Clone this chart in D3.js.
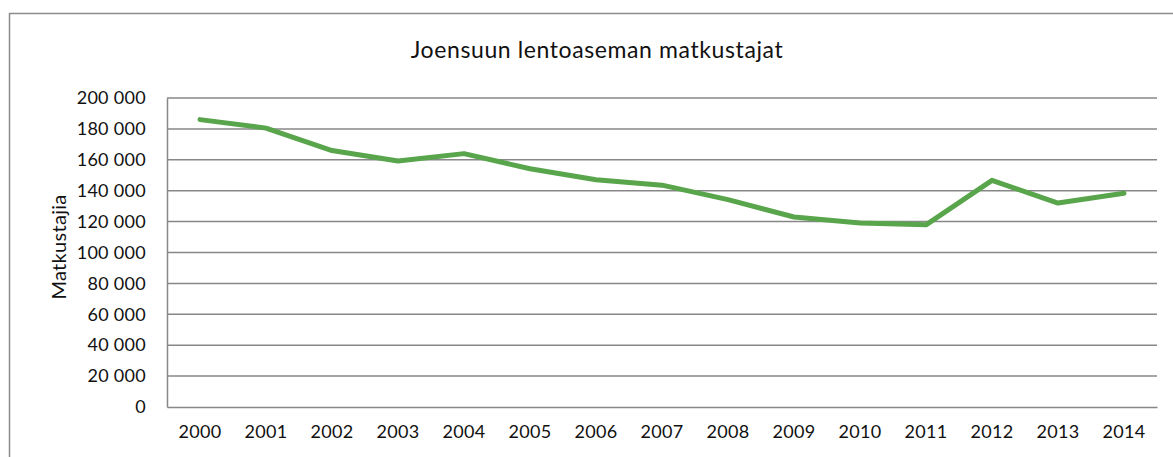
<!DOCTYPE html>
<html>
<head>
<meta charset="utf-8">
<script src="https://cdn.jsdelivr.net/npm/d3@7"></script>
<style>
  body { margin: 0; background: #fff; }
  svg { display: block; font-family: Lato, "Open Sans", sans-serif; }
</style>
</head>
<body>
<svg id="view" width="1173" height="457"></svg>
<script>
// data
const years = ['2000','2001','2002','2003','2004','2005','2006','2007','2008','2009','2010','2011','2012','2013','2014'];
const passengers = [186000, 180500, 166000, 159200, 164000, 154200, 147100, 143600, 134200, 123000, 119100, 117900, 146700, 132000, 138300];
const yTicks = [0, 20000, 40000, 60000, 80000, 100000, 120000, 140000, 160000, 180000, 200000];

const title = 'Joensuun lentoaseman matkustajat';
const yTitle = 'Matkustajia';

const GRID = '#878787', LINE = '#58a54c';
const plot = {left: 167, right: 1157, top: 98, bottom: 407};

var svg = d3.select('#view');

// outer chart frame (only top and left are visible in the crop)
svg.append('path')
    .attr('d', 'M9.5,458 L9.5,13.5 L1173,13.5')
    .attr('fill', 'none')
    .attr('stroke', '#8c8c8c')
    .attr('stroke-width', 1.5);

var x = d3.scaleBand().domain(years).range([plot.left, plot.right]);
var y = d3.scaleLinear().domain([0, 200000]).range([plot.bottom, plot.top]);

const fmt = v => d3.format(',')(v).replace(/,/g, ' ');

// gridlines
svg.append('g').selectAll('line').data(yTicks.filter(d => d > 0)).enter().append('line')
    .attr('x1', plot.left).attr('x2', plot.right)
    .attr('y1', d => y(d)).attr('y2', d => y(d))
    .attr('stroke', GRID).attr('stroke-width', 1.5);

// y axis
var yAxis = svg.append('g')
    .attr('transform', 'translate(' + plot.left + ',0)')
    .call(d3.axisLeft(y).tickValues(yTicks).tickFormat(fmt).tickSize(0).tickPadding(21));
yAxis.select('.domain').attr('stroke', GRID).attr('stroke-width', 1.5);
yAxis.selectAll('text').attr('font-size', 18).attr('fill', '#111')
    .attr('font-family', 'Lato, sans-serif').attr('letter-spacing', 0.3);

// x axis
var xAxis = svg.append('g')
    .attr('transform', 'translate(0,' + plot.bottom + ')')
    .call(d3.axisBottom(x).tickSize(0).tickPadding(18));
xAxis.select('.domain').attr('stroke', GRID).attr('stroke-width', 1.5);
xAxis.selectAll('text').attr('font-size', 18).attr('fill', '#111')
    .attr('font-family', 'Lato, sans-serif').attr('letter-spacing', 0.3);

// the series
var line = d3.line()
    .x((d, i) => x(years[i]) + x.bandwidth() / 2)
    .y(d => y(d));
svg.append('path')
    .datum(passengers)
    .attr('d', line)
    .attr('fill', 'none')
    .attr('stroke', LINE)
    .attr('stroke-width', 5)
    .attr('stroke-linecap', 'round')
    .attr('stroke-linejoin', 'round');

// titles
svg.append('text')
    .attr('x', 597).attr('y', 58)
    .attr('text-anchor', 'middle')
    .attr('font-size', 23)
    .attr('letter-spacing', 0.6)
    .attr('fill', '#111')
    .text(title);

svg.append('text')
    .attr('transform', 'translate(66,247) rotate(-90)')
    .attr('text-anchor', 'middle')
    .attr('font-size', 20)
    .attr('letter-spacing', 0.3)
    .attr('fill', '#111')
    .text(yTitle);
</script>
</body>
</html>
